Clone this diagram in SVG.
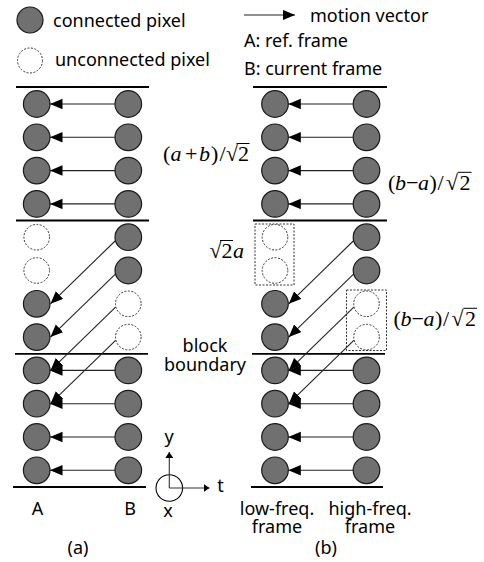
<svg xmlns="http://www.w3.org/2000/svg" width="484" height="562" viewBox="0 0 484 562">
<style>
.px{fill:#707070;stroke:#1a1a1a;stroke-width:1.2}
.un{fill:#fff;stroke:#333;stroke-width:1;stroke-dasharray:2 1.5}
.bd{stroke:#000;stroke-width:1.8}
.mv{stroke:#222;stroke-width:1.1;fill:none}
.ax{stroke:#333;stroke-width:1.1;fill:none}
.box{fill:none;stroke:#333;stroke-width:1;stroke-dasharray:2 1.5}
.t{font-family:"Noto Sans","DejaVu Sans",sans-serif;font-size:18px;fill:#000}
.m{font-family:"Liberation Serif","Times New Roman",serif;font-size:22px;fill:#000}
.i{font-style:italic}
.vin{stroke:#000;stroke-width:1}
</style>
<defs>
<marker id="ah" markerUnits="userSpaceOnUse" markerWidth="13" markerHeight="11" refX="12.5" refY="5.25" orient="auto"><path d="M0,0 L12.5,5.25 L0,10.5 z" fill="#000"/></marker>
<marker id="sa" markerUnits="userSpaceOnUse" markerWidth="8" markerHeight="9" refX="6" refY="4" orient="auto"><path d="M0,0 L6,4 L0,8 z" fill="#000"/></marker>
</defs>

<!-- legend -->
<g id="legend">
<g id="legend-connected"><circle class="px" cx="30" cy="20" r="13"/><text class="t" x="53" y="27">connected pixel</text></g>
<g id="legend-unconnected"><circle class="un" cx="30" cy="60.5" r="12.5"/><text class="t" x="55" y="66">unconnected pixel</text></g>
<g id="legend-motion"><line class="mv" x1="244" y1="15" x2="295" y2="15" marker-end="url(#ah)"/><text class="t" x="310" y="22">motion vector</text></g>
<text class="t" x="244" y="47">A: ref. frame</text>
<text class="t" x="244" y="75">B: current frame</text>
</g>

<!-- block boundaries -->
<g id="boundaries">
<line class="bd" x1="16" y1="87" x2="149" y2="87"/>
<line class="bd" x1="16" y1="220.5" x2="149" y2="220.5"/>
<line class="bd" x1="15" y1="353.8" x2="148" y2="353.8"/>
<line class="bd" x1="13" y1="487" x2="146" y2="487"/>
<line class="bd" x1="253" y1="87" x2="387" y2="87"/>
<line class="bd" x1="253" y1="220.5" x2="387" y2="220.5"/>
<line class="bd" x1="252" y1="353.8" x2="385" y2="353.8"/>
<line class="bd" x1="251" y1="487" x2="383" y2="487"/>
</g>

<!-- panel (a) nodes -->
<g id="a-A1"><circle class="px" cx="36.7" cy="104" r="13.3"/></g>
<g id="a-A2"><circle class="px" cx="36.7" cy="137.3" r="13.3"/></g>
<g id="a-A3"><circle class="px" cx="36.7" cy="170.6" r="13.3"/></g>
<g id="a-A4"><circle class="px" cx="36.7" cy="203.9" r="13.3"/></g>
<g id="a-A5"><circle class="un" cx="36.7" cy="237.2" r="12.8"/></g>
<g id="a-A6"><circle class="un" cx="36.7" cy="270.5" r="12.8"/></g>
<g id="a-A7"><circle class="px" cx="36.7" cy="303.8" r="13.3"/></g>
<g id="a-A8"><circle class="px" cx="36.7" cy="337.1" r="13.3"/></g>
<g id="a-A9"><circle class="px" cx="36.7" cy="370.4" r="13.3"/></g>
<g id="a-A10"><circle class="px" cx="36.7" cy="403.7" r="13.3"/></g>
<g id="a-A11"><circle class="px" cx="36.7" cy="437" r="13.3"/></g>
<g id="a-A12"><circle class="px" cx="36.7" cy="470.3" r="13.3"/></g>
<g id="a-B1"><circle class="px" cx="128.3" cy="104" r="13.3"/></g>
<g id="a-B2"><circle class="px" cx="128.3" cy="137.3" r="13.3"/></g>
<g id="a-B3"><circle class="px" cx="128.3" cy="170.6" r="13.3"/></g>
<g id="a-B4"><circle class="px" cx="128.3" cy="203.9" r="13.3"/></g>
<g id="a-B5"><circle class="px" cx="128.3" cy="237.2" r="13.3"/></g>
<g id="a-B6"><circle class="px" cx="128.3" cy="270.5" r="13.3"/></g>
<g id="a-B7"><circle class="un" cx="128.3" cy="303.8" r="12.8"/></g>
<g id="a-B8"><circle class="un" cx="128.3" cy="337.1" r="12.8"/></g>
<g id="a-B9"><circle class="px" cx="128.3" cy="370.4" r="13.3"/></g>
<g id="a-B10"><circle class="px" cx="128.3" cy="403.7" r="13.3"/></g>
<g id="a-B11"><circle class="px" cx="128.3" cy="437" r="13.3"/></g>
<g id="a-B12"><circle class="px" cx="128.3" cy="470.3" r="13.3"/></g>

<!-- panel (b) nodes -->
<g id="b-box-low"><rect class="box" x="255" y="224" width="39" height="61"/></g>
<g id="b-box-high"><rect class="box" x="346.5" y="290" width="40" height="60.5"/></g>
<g id="b-L1"><circle class="px" cx="275" cy="104" r="13.3"/></g>
<g id="b-L2"><circle class="px" cx="275" cy="137.3" r="13.3"/></g>
<g id="b-L3"><circle class="px" cx="275" cy="170.6" r="13.3"/></g>
<g id="b-L4"><circle class="px" cx="275" cy="203.9" r="13.3"/></g>
<g id="b-L5"><circle class="un" cx="275" cy="237.2" r="12.8"/></g>
<g id="b-L6"><circle class="un" cx="275" cy="270.5" r="12.8"/></g>
<g id="b-L7"><circle class="px" cx="275" cy="303.8" r="13.3"/></g>
<g id="b-L8"><circle class="px" cx="275" cy="337.1" r="13.3"/></g>
<g id="b-L9"><circle class="px" cx="275" cy="370.4" r="13.3"/></g>
<g id="b-L10"><circle class="px" cx="275" cy="403.7" r="13.3"/></g>
<g id="b-L11"><circle class="px" cx="275" cy="437" r="13.3"/></g>
<g id="b-L12"><circle class="px" cx="275" cy="470.3" r="13.3"/></g>
<g id="b-H1"><circle class="px" cx="366.5" cy="104" r="13.3"/></g>
<g id="b-H2"><circle class="px" cx="366.5" cy="137.3" r="13.3"/></g>
<g id="b-H3"><circle class="px" cx="366.5" cy="170.6" r="13.3"/></g>
<g id="b-H4"><circle class="px" cx="366.5" cy="203.9" r="13.3"/></g>
<g id="b-H5"><circle class="px" cx="366.5" cy="237.2" r="13.3"/></g>
<g id="b-H6"><circle class="px" cx="366.5" cy="270.5" r="13.3"/></g>
<g id="b-H7"><circle class="un" cx="366.5" cy="303.8" r="12.8"/></g>
<g id="b-H8"><circle class="un" cx="366.5" cy="337.1" r="12.8"/></g>
<g id="b-H9"><circle class="px" cx="366.5" cy="370.4" r="13.3"/></g>
<g id="b-H10"><circle class="px" cx="366.5" cy="403.7" r="13.3"/></g>
<g id="b-H11"><circle class="px" cx="366.5" cy="437" r="13.3"/></g>
<g id="b-H12"><circle class="px" cx="366.5" cy="470.3" r="13.3"/></g>

<!-- connectors -->
<g id="connectors" class="mv">
<line x1="115" y1="104" x2="50" y2="104" marker-end="url(#ah)"/>
<line x1="115" y1="137.3" x2="50" y2="137.3" marker-end="url(#ah)"/>
<line x1="115" y1="170.6" x2="50" y2="170.6" marker-end="url(#ah)"/>
<line x1="115" y1="203.9" x2="50" y2="203.9" marker-end="url(#ah)"/>
<line x1="115" y1="370.4" x2="50" y2="370.4" marker-end="url(#ah)"/>
<line x1="115" y1="403.7" x2="50" y2="403.7" marker-end="url(#ah)"/>
<line x1="115" y1="437" x2="50" y2="437" marker-end="url(#ah)"/>
<line x1="115" y1="470.3" x2="50" y2="470.3" marker-end="url(#ah)"/>
<line x1="115.6" y1="240.5" x2="50.5" y2="303.8" marker-end="url(#ah)"/>
<line x1="115.6" y1="273.8" x2="50.5" y2="337.1" marker-end="url(#ah)"/>
<line x1="115.6" y1="307.1" x2="50.5" y2="370.4" marker-end="url(#ah)"/>
<line x1="115.6" y1="340.4" x2="50.5" y2="403.7" marker-end="url(#ah)"/>
<line x1="353.2" y1="104" x2="288.3" y2="104" marker-end="url(#ah)"/>
<line x1="353.2" y1="137.3" x2="288.3" y2="137.3" marker-end="url(#ah)"/>
<line x1="353.2" y1="170.6" x2="288.3" y2="170.6" marker-end="url(#ah)"/>
<line x1="353.2" y1="203.9" x2="288.3" y2="203.9" marker-end="url(#ah)"/>
<line x1="353.2" y1="370.4" x2="288.3" y2="370.4" marker-end="url(#ah)"/>
<line x1="353.2" y1="403.7" x2="288.3" y2="403.7" marker-end="url(#ah)"/>
<line x1="353.2" y1="437" x2="288.3" y2="437" marker-end="url(#ah)"/>
<line x1="353.2" y1="470.3" x2="288.3" y2="470.3" marker-end="url(#ah)"/>
<line x1="353.8" y1="240.5" x2="288.8" y2="303.8" marker-end="url(#ah)"/>
<line x1="353.8" y1="273.8" x2="288.8" y2="337.1" marker-end="url(#ah)"/>
<line x1="353.8" y1="307.1" x2="288.8" y2="370.4" marker-end="url(#ah)"/>
<line x1="353.8" y1="340.4" x2="288.8" y2="403.7" marker-end="url(#ah)"/>
</g>

<!-- math labels -->
<g id="label-lowpass">
<text class="m" y="161"><tspan x="163">(</tspan><tspan class="i" x="170.5">a</tspan><tspan x="185">+</tspan><tspan class="i" x="199">b</tspan><tspan x="211">)</tspan><tspan x="219.5">/</tspan><tspan x="226">√</tspan><tspan x="238">2</tspan></text>
<line class="vin" x1="236.5" y1="143.5" x2="249.5" y2="143.5"/>
</g>
<g id="label-highpass1">
<text class="m" y="190"><tspan x="388">(</tspan><tspan class="i" x="395">b</tspan><tspan x="406">−</tspan><tspan class="i" x="418">a</tspan><tspan x="429.5">)</tspan><tspan x="437.5">/</tspan><tspan x="446">√</tspan><tspan x="459.5">2</tspan></text>
<line class="vin" x1="458" y1="172.3" x2="471.5" y2="172.3"/>
</g>
<g id="label-scaled">
<text class="m" y="258"><tspan x="209.5">√</tspan><tspan x="221.5">2</tspan><tspan class="i" x="233">a</tspan></text>
<line class="vin" x1="220" y1="240.5" x2="233" y2="240.5"/>
</g>
<g id="label-highpass2">
<text class="m" y="326"><tspan x="393.5">(</tspan><tspan class="i" x="400.5">b</tspan><tspan x="411.5">−</tspan><tspan class="i" x="423.5">a</tspan><tspan x="435">)</tspan><tspan x="443">/</tspan><tspan x="451.5">√</tspan><tspan x="465">2</tspan></text>
<line class="vin" x1="463.5" y1="308.3" x2="477" y2="308.3"/>
</g>

<text class="t" x="205" y="352" text-anchor="middle" font-size="17">block</text>
<text class="t" x="205" y="370.5" text-anchor="middle" font-size="17">boundary</text>

<!-- axes -->
<g id="axes">
<circle cx="169.3" cy="488" r="13.3" fill="none" stroke="#000" stroke-width="1.1"/>
<line class="ax" x1="169.3" y1="488" x2="169.3" y2="452" marker-end="url(#sa)"/>
<line class="ax" x1="169.3" y1="488" x2="209.5" y2="488" marker-end="url(#sa)"/>
<text class="t" x="169" y="443" text-anchor="middle">y</text>
<text class="t" x="220.5" y="492" text-anchor="middle">t</text>
<text class="t" x="168" y="517" text-anchor="middle">x</text>
</g>

<!-- bottom labels -->
<text class="t" x="37.5" y="515" text-anchor="middle">A</text>
<text class="t" x="130" y="515" text-anchor="middle">B</text>
<text class="t" x="277" y="515" text-anchor="middle">low-freq.</text>
<text class="t" x="277" y="533" text-anchor="middle">frame</text>
<text class="t" x="370" y="515" text-anchor="middle">high-freq.</text>
<text class="t" x="370" y="533" text-anchor="middle">frame</text>
<text class="t" x="78" y="554" text-anchor="middle" font-size="21">(a)</text>
<text class="t" x="326" y="554" text-anchor="middle" font-size="21">(b)</text>
</svg>
